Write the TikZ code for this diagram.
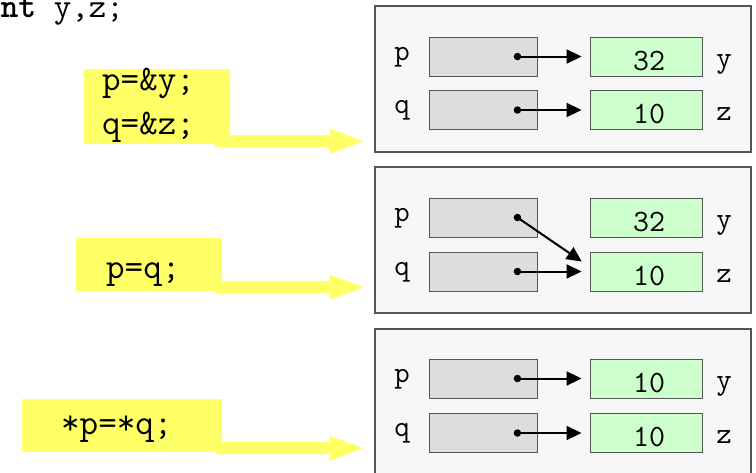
\documentclass[tikz,border=0pt]{standalone}
\usetikzlibrary{arrows.meta,calc}
\definecolor{panelfill}{HTML}{F7F7F7}
\definecolor{panelline}{HTML}{555555}
\definecolor{grayfill}{HTML}{DDDDDD}
\definecolor{greenfill}{HTML}{CCFFCC}
\definecolor{yel}{HTML}{FFFF66}
\tikzset{
  panel/.style={draw=panelline,fill=panelfill,line width=1.2pt,minimum width=376pt,minimum height=146pt,inner sep=0pt},
  ptrbox/.style={draw=panelline,fill=grayfill,line width=0.9pt,minimum width=108pt,minimum height=39pt,inner sep=0pt},
  valbox/.style={draw=panelline,fill=greenfill,line width=0.9pt,minimum width=112pt,minimum height=39pt,inner sep=0pt},
  codebox/.style={fill=yel,inner sep=0pt},
  lbl/.style={font=\ttfamily\fontsize{30}{30}\selectfont,anchor=base,inner sep=0pt},
  num/.style={font=\ttfamily\fontsize{31}{31}\selectfont,anchor=base,inner sep=0pt},
  code/.style={font=\ttfamily\fontsize{36}{36}\selectfont,anchor=base west,inner sep=0pt},
  dotc/.style={circle,fill=black,inner sep=0pt,minimum size=7.5pt},
  ptr/.style={line width=2pt,-{Triangle[length=15pt,width=14pt]},shorten >=8pt},
  bigarrow/.style={draw=yel,line width=12pt,-{Triangle[length=37pt,width=22pt]},shorten >=8pt}
}
\begin{document}
\begin{tikzpicture}[x=1pt,y=-1pt]
\useasboundingbox (0,0) rectangle (756,472);
% top text
\node[font=\ttfamily\fontsize{34}{34}\selectfont,anchor=base west,inner sep=0pt] (decl) at (-17.5,17) {\textbf{int} y,z;};

% panels
\node[panel] (P1) at (563,79) {};
\node[panel] (P2) at (563,240) {};
\node[panel] (P3) at (563,402) {};

% panel 1
\node[ptrbox] (p1) at (483,56.5) {};
\node[ptrbox] (q1) at (483,110) {};
\node[valbox] (y1) at (646,56.5) {};
\node[valbox] (z1) at (646,110) {};
\node[num] (ny1) at (649,70) {32};
\node[num] (nz1) at (649,123.5) {10};
\node[lbl] (lp1) at (402,60) {p};
\node[lbl] (lq1) at (402,113.5) {q};
\node[lbl] (ly1) at (724,67) {y};
\node[lbl] (lz1) at (724,120.5) {z};
\node[dotc] (dp1) at ([xshift=-20pt]p1.east) {};
\node[dotc] (dq1) at ([xshift=-20pt]q1.east) {};
\draw[ptr] (dp1.center) -- (y1.west);
\draw[ptr] (dq1.center) -- (z1.west);

% panel 2
\node[ptrbox] (p2) at (483,217.5) {};
\node[ptrbox] (q2) at (483,271.5) {};
\node[valbox] (y2) at (646,217.5) {};
\node[valbox] (z2) at (646,271.5) {};
\node[num] (ny2) at (649,231) {32};
\node[num] (nz2) at (649,285) {10};
\node[lbl] (lp2) at (402,221) {p};
\node[lbl] (lq2) at (402,275) {q};
\node[lbl] (ly2) at (724,228) {y};
\node[lbl] (lz2) at (724,282) {z};
\node[dotc] (dp2) at ([xshift=-20pt]p2.east) {};
\node[dotc] (dq2) at ([xshift=-20pt]q2.east) {};
\coordinate (t2) at ([xshift=-2pt,yshift=6pt]z2.west);
\draw[ptr,shorten >=7pt] (dp2.center) -- (t2);
\draw[ptr] (dq2.center) -- (z2.west);

% panel 3
\node[ptrbox] (p3) at (483,378.5) {};
\node[ptrbox] (q3) at (483,433) {};
\node[valbox] (y3) at (646,378.5) {};
\node[valbox] (z3) at (646,433) {};
\node[num] (ny3) at (649,392) {10};
\node[num] (nz3) at (649,446.5) {10};
\node[lbl] (lp3) at (402,382) {p};
\node[lbl] (lq3) at (402,436.5) {q};
\node[lbl] (ly3) at (724,389) {y};
\node[lbl] (lz3) at (724,443.5) {z};
\node[dotc] (dp3) at ([xshift=-20pt]p3.east) {};
\node[dotc] (dq3) at ([xshift=-20pt]q3.east) {};
\draw[ptr] (dp3.center) -- (y3.west);
\draw[ptr] (dq3.center) -- (z3.west);

% yellow code boxes
\node[codebox,minimum width=146pt,minimum height=75pt] (yb1) at (157,106.5) {};
\node[code] (c1a) at (102,90) {p=\&y;};
\node[code] (c1b) at (102,134) {q=\&z;};
\node[codebox,minimum width=146pt,minimum height=53pt] (yb2) at (149,264.5) {};
\node[code] (c2) at (106,278) {p=q;};
\node[codebox,minimum width=200pt,minimum height=53pt] (yb3) at (122,425.5) {};
\node[code] (c3) at (61,434) {*p=*q;};

% yellow arrows
\coordinate (s1) at ([xshift=-15pt,yshift=3pt]yb1.south east);
\coordinate (s2) at ([xshift=-7pt,yshift=4pt]yb2.south east);
\coordinate (s3) at ([xshift=-7pt,yshift=4pt]yb3.south east);
\draw[bigarrow] (s1) -- (s1 -| P1.west);
\draw[bigarrow] (s2) -- (s2 -| P2.west);
\draw[bigarrow] (s3) -- (s3 -| P3.west);
\end{tikzpicture}
\end{document}
